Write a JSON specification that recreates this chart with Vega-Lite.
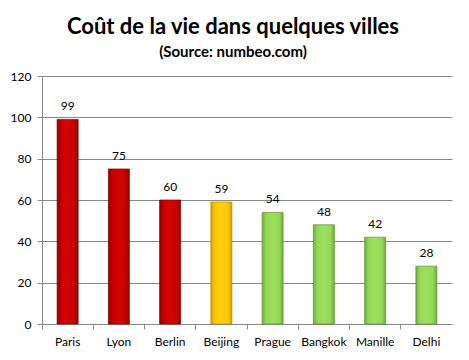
{
  "$schema": "https://vega.github.io/schema/vega-lite/v6.json",
  "width": 410,
  "height": 248,
  "autosize": {"type": "none"},
  "padding": {"left": 42, "top": 76, "right": 17, "bottom": 36},
  "background": "white",
  "title": {
    "text": "Coût de la vie dans quelques villes",
    "subtitle": "(Source: numbeo.com)",
    "anchor": "middle",
    "dx": -14,
    "offset": 9,
    "font": "Lato",
    "fontSize": 22,
    "fontWeight": "bold",
    "color": "black",
    "subtitleFont": "Lato",
    "subtitleFontSize": 15,
    "subtitleFontWeight": "bold",
    "subtitleColor": "black",
    "subtitlePadding": 6
  },
  "config": {
    "view": {"stroke": null},
    "font": "Lato"
  },
  "data": {
    "values": [
      {"ville": "Paris", "cout": 99, "groupe": "haut"},
      {"ville": "Lyon", "cout": 75, "groupe": "haut"},
      {"ville": "Berlin", "cout": 60, "groupe": "haut"},
      {"ville": "Beijing", "cout": 59, "groupe": "moyen"},
      {"ville": "Prague", "cout": 54, "groupe": "bas"},
      {"ville": "Bangkok", "cout": 48, "groupe": "bas"},
      {"ville": "Manille", "cout": 42, "groupe": "bas"},
      {"ville": "Delhi", "cout": 28, "groupe": "bas"}
    ]
  },
  "encoding": {
    "x": {
      "field": "ville",
      "type": "nominal",
      "sort": null,
      "title": null,
      "scale": {"paddingInner": 0, "paddingOuter": 0},
      "axis": {
        "labelAngle": 0,
        "labelFont": "Lato",
        "labelFontSize": 12,
        "labelColor": "black",
        "labelPadding": 7,
        "tickColor": "#888888",
        "tickSize": 5,
        "bandPosition": 0,
        "domainColor": "#888888",
        "grid": false
      }
    },
    "y": {
      "field": "cout",
      "type": "quantitative",
      "title": null,
      "scale": {"domain": [0, 120], "nice": false},
      "axis": {
        "values": [0, 20, 40, 60, 80, 100, 120],
        "labelFont": "Lato",
        "labelFontSize": 12,
        "labelColor": "black",
        "labelPadding": 6,
        "tickColor": "#888888",
        "tickSize": 5,
        "domainColor": "#888888",
        "gridColor": "#888888",
        "gridOpacity": 1
      }
    }
  },
  "layer": [
    {
      "transform": [{"filter": "datum.groupe === 'haut'"}],
      "mark": {
        "type": "bar",
        "width": {"band": 0.41},
        "stroke": "#7a0000",
        "strokeWidth": 0.7,
        "color": {
          "gradient": "linear", "x1": 0, "x2": 1, "y1": 0, "y2": 0,
          "stops": [
            {"offset": 0, "color": "#8f0000"},
            {"offset": 0.2, "color": "#c80000"},
            {"offset": 0.5, "color": "#d40404"},
            {"offset": 0.8, "color": "#c80000"},
            {"offset": 1, "color": "#8f0000"}
          ]
        }
      }
    },
    {
      "transform": [{"filter": "datum.groupe === 'moyen'"}],
      "mark": {
        "type": "bar",
        "width": {"band": 0.41},
        "stroke": "#b08800",
        "strokeWidth": 0.7,
        "color": {
          "gradient": "linear", "x1": 0, "x2": 1, "y1": 0, "y2": 0,
          "stops": [
            {"offset": 0, "color": "#d9a000"},
            {"offset": 0.2, "color": "#ffc800"},
            {"offset": 0.5, "color": "#ffcf10"},
            {"offset": 0.8, "color": "#ffc800"},
            {"offset": 1, "color": "#d9a000"}
          ]
        }
      }
    },
    {
      "transform": [{"filter": "datum.groupe === 'bas'"}],
      "mark": {
        "type": "bar",
        "width": {"band": 0.41},
        "stroke": "#5e8f32",
        "strokeWidth": 0.7,
        "color": {
          "gradient": "linear", "x1": 0, "x2": 1, "y1": 0, "y2": 0,
          "stops": [
            {"offset": 0, "color": "#74ad40"},
            {"offset": 0.2, "color": "#96d957"},
            {"offset": 0.5, "color": "#9de05e"},
            {"offset": 0.8, "color": "#96d957"},
            {"offset": 1, "color": "#74ad40"}
          ]
        }
      }
    },
    {
      "mark": {
        "type": "text",
        "dy": -6,
        "baseline": "bottom",
        "font": "Lato",
        "fontSize": 12,
        "color": "black"
      },
      "encoding": {"text": {"field": "cout", "type": "quantitative"}}
    }
  ]
}
